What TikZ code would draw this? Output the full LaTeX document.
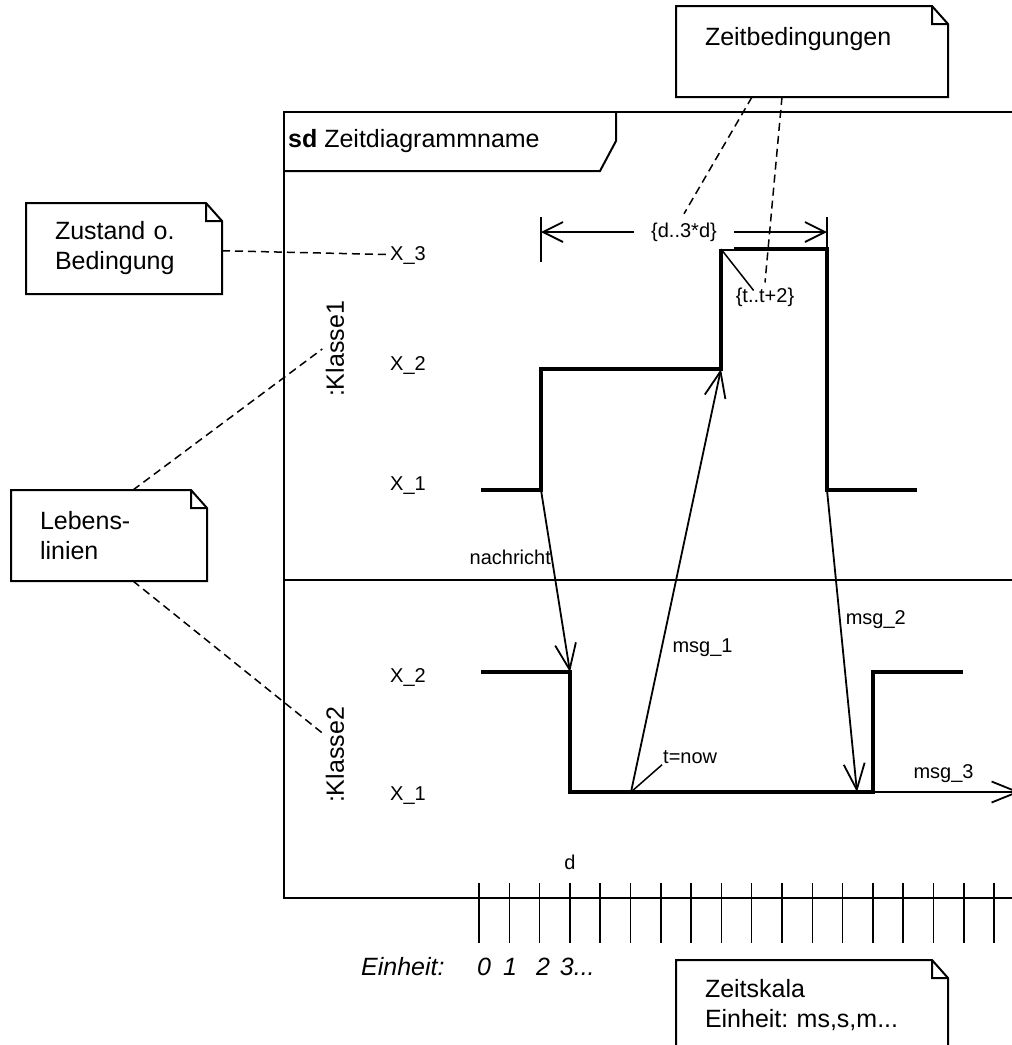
\documentclass[tikz,border=0pt]{standalone}
\usepackage{fontspec}
\setmainfont{Liberation Sans}
\usetikzlibrary{arrows.meta}
\frenchspacing
\newcommand{\bigtxt}{\fontsize{25}{30}\selectfont}
\newcommand{\smalltxt}{\fontsize{20}{24}\selectfont}
% outline of a note with folded corner
\newcommand{\dogear}[1]{%
	\draw[notebox] (#1.north west) -- ([xshift=-16pt]#1.north east)
		-- ([yshift=-18pt]#1.north east) -- (#1.south east) -- (#1.south west) -- cycle
		([xshift=-16pt]#1.north east) |- ([yshift=-18pt]#1.north east);}
\tikzset{
	umlnote/.style={anchor=north west, text width=#1, align=left, inner xsep=29pt,
		inner ysep=0pt, outer sep=0pt, minimum height=91pt, font=\bigtxt},
	notebox/.style={line width=2pt, line join=miter},
	frame/.style={line width=2pt},
	wave/.style={line width=4.5pt, line join=miter},
	msg/.style={line width=1.8pt, -{Straight Barb[length=26pt,width=21pt]}},
	link/.style={line width=1.5pt, dash pattern=on 8pt off 5pt},
	lbl/.style={font=\smalltxt, inner sep=2pt}
}
\begin{document}
\begin{tikzpicture}[x=1pt,y=-1pt]
	\useasboundingbox (0,0) rectangle (1012,1045);
	% the frame
	\draw[frame] (1012,112) -- (284,112) -- (284,898) -- (1012,898);
	\draw[frame] (284,580) -- (1012,580);
	\draw[frame] (284,171) -- (600,171) -- (616,141) -- (616,112);
	\node[anchor=west, font=\bigtxt, inner sep=0pt] (title) at (288,141) {\textbf{sd} Zeitdiagrammname};
	% lifelines
	\node[rotate=90, font=\bigtxt] (klasseA) at (335,349) {:Klasse1};
	\node[rotate=90, font=\bigtxt] (klasseB) at (335,755) {:Klasse2};
	\node[lbl, anchor=west] (levA3) at (388,255) {X\_3};
	\node[lbl, anchor=west] (levA2) at (388,365) {X\_2};
	\node[lbl, anchor=west] (levA1) at (388,486) {X\_1};
	\node[lbl, anchor=west] (levB2) at (388,677) {X\_2};
	\node[lbl, anchor=west] (levB1) at (388,796) {X\_1};
	% states of Klasse1
	\coordinate (a1) at (541,490);
	\coordinate (a3) at (721,369);
	\coordinate (a4) at (721,249);
	\coordinate (a6) at (827,490);
	\draw[wave] (481,490) -- (a1) -- (541,369) -- (a3) -- (a4) -- (827,249) -- (a6) -- (917,490);
	% states of Klasse2
	\coordinate (b1) at (570,672);
	\coordinate (b3) at (631,792);
	\coordinate (b4) at (857,792);
	\coordinate (b5) at (873,792);
	\draw[wave] (481,672) -- (b1) -- (570,792) -- (b5) -- (873,672) -- (963,672);
	% messages
	\draw[msg] (a1) -- (b1) node[pos=0.37, anchor=east, lbl, inner sep=0pt] (nachricht) {nachricht};
	\draw[msg] (b3) -- (a3) node[pos=0.34, anchor=west, lbl, inner sep=10pt] (msgA) {msg\_1};
	\draw[msg] (a6) -- (b4) node[pos=0.43, anchor=west, lbl, inner sep=5pt] (msgB) {msg\_2};
	\coordinate (out) at (1020,792);
	\draw[msg] (b5) -- (out) node[pos=0.48, above=6pt, lbl] (msgC) {msg\_3};
	% time constraints
	\draw[line width=1.5pt] (541,217) -- (541,262);
	\draw[line width=1.5pt] (827,217) -- (827,249);
	\coordinate (dl) at (541,232);
	\coordinate (dr) at (827,232);
	\draw[line width=1.8pt, {Straight Barb[length=20pt,width=20pt]}-{Straight Barb[length=20pt,width=20pt]}]
		(dl) -- (dr) node[pos=0.50, lbl, fill=white, inner xsep=17pt, inner ysep=8pt] (dimlabel) {\{d..3*d\}};
	\node[lbl] (tlabel) at (765,297) {\{t..t+2\}};
	\draw[line width=1.5pt] (a4) -- ([xshift=20pt,yshift=-5pt]tlabel.north west);
	\node[lbl, anchor=west, inner sep=1pt] (tnow) at (662,757) {t=now};
	\draw[line width=1.5pt] (b3) -- (tnow.south west);
	% time scale
	\foreach \i in {0,...,17}
		\draw[line width=1.5pt] (479+30.3*\i,883) -- (479+30.3*\i,943);
	\node[lbl] (dlabel) at (570,862) {d};
	\node[anchor=west, font=\bigtxt\itshape, inner sep=0pt] (einheit) at (361,967) {Einheit:};
	\node[anchor=west, font=\bigtxt\itshape, inner sep=0pt] (zahlen) at (477,967)
		{0\hspace{12pt}1\hspace{19pt}2\hspace{10pt}3...};
	% notes
	\node[umlnote=214pt] (zeitnote) at (676,6) {Zeitbedingungen\\\mbox{}};
	\dogear{zeitnote}
	\node[umlnote=138pt] (zustandnote) at (26,203) {Zustand o.\\Bedingung};
	\dogear{zustandnote}
	\node[umlnote=138pt] (lebennote) at (11,490) {Lebens-\\linien};
	\dogear{lebennote}
	\node[umlnote=214pt] (skalanote) at (676,960) {Zeitskala\\Einheit: ms,s,m...};
	\dogear{skalanote}
	% links from the notes
	\draw[link] (zustandnote) -- (levA3);
	\draw[link] ([xshift=24pt]lebennote.north) -- (klasseA.north);
	\draw[link] ([xshift=24pt]lebennote.south) -- ([yshift=22pt]klasseB.north);
	\draw[link] ([xshift=-60pt]zeitnote.south) -- (dimlabel.north);
	\draw[link] ([xshift=-30pt]zeitnote.south) -- ([yshift=3pt]tlabel.north);
\end{tikzpicture}
\end{document}
